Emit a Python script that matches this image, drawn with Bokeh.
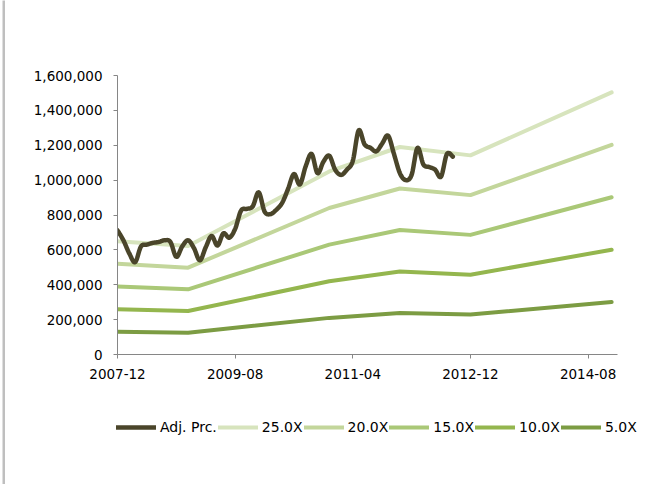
import numpy as np
from bokeh.plotting import figure
from bokeh.layouts import row, column
from bokeh.models import (Range1d, NumeralTickFormatter, FixedTicker, Legend, LegendItem)
from bokeh.embed import file_html
from bokeh.resources import INLINE

# ---------------- data ----------------
tick_months = [0, 20, 40, 60, 80]
tick_labels = ["2007-12", "2009-08", "2011-04", "2012-12", "2014-08"]

# Adj. price, monthly from 2007-12 (month 0), in thousands
price_months = list(range(58))
price_k = [712, 655, 580, 530, 620, 630, 640, 645, 655, 645,
           560, 620, 655, 610, 540, 615, 680, 625, 695, 670,
           720, 825, 835, 850, 930, 820, 805, 830, 870, 950,
           1035, 975, 1080, 1150, 1040, 1105, 1140, 1060, 1030, 1060,
           1110, 1285, 1205, 1185, 1165, 1210, 1255, 1150, 1040, 1000,
           1030, 1185, 1090, 1075, 1060, 1020, 1150, 1135]

# valuation bands (thousands) at these months
band_months = [0, 12, 36, 48, 60, 84]
band_25x = [650, 622, 1050, 1190, 1142, 1503]
band_20x = [520, 498, 840, 952, 914, 1202]
band_15x = [390, 374, 630, 714, 686, 902]
band_10x = [260, 249, 420, 476, 457, 601]
band_5x = [130, 125, 210, 238, 229, 301]

series_names = ["Adj. Prc.", "25.0X", "20.0X", "15.0X", "10.0X", "5.0X"]
colors = ["#4A452A", "#D7E4BD", "#C3D69B", "#AAC877", "#94B64E", "#7C9C43"]
widths = [4.5, 4, 4, 4, 4, 4]

X_MAX = 85          # axis end (months after 2007-12)
Y_MAX = 1600000

FONT = "DejaVu Sans"
FSIZE = "13.5px"
GREY = "#BFBFBF"


def smooth(xs, ys, n=12):
    """Catmull-Rom smoothing like a spreadsheet's smoothed line."""
    xs = np.asarray(xs, float)
    ys = np.asarray(ys, float)
    px = np.concatenate([[xs[0]], xs, [xs[-1]]])
    py = np.concatenate([[ys[0]], ys, [ys[-1]]])
    ox, oy = [], []
    t = np.linspace(0, 1, n, endpoint=False)
    for i in range(1, len(px) - 2):
        x0, x1, x2, x3 = px[i - 1], px[i], px[i + 1], px[i + 2]
        y0, y1, y2, y3 = py[i - 1], py[i], py[i + 1], py[i + 2]
        c1x, c1y = x1 + (x2 - x0) / 6, y1 + (y2 - y0) / 6
        c2x, c2y = x2 - (x3 - x1) / 6, y2 - (y3 - y1) / 6
        bx = (1 - t) ** 3 * x1 + 3 * (1 - t) ** 2 * t * c1x + 3 * (1 - t) * t ** 2 * c2x + t ** 3 * x2
        by = (1 - t) ** 3 * y1 + 3 * (1 - t) ** 2 * t * c1y + 3 * (1 - t) * t ** 2 * c2y + t ** 3 * y2
        ox.extend(bx)
        oy.extend(by)
    ox.append(xs[-1])
    oy.append(ys[-1])
    return ox, oy


def plain(w, h, bl=0, bt=0, bg="white"):
    s = figure(width=w, height=h, output_backend="svg", toolbar_location=None,
               x_axis_type=None, y_axis_type=None, x_range=Range1d(0, 1), y_range=Range1d(0, 1))
    s.min_border = 0
    s.min_border_left = bl
    s.min_border_top = bt
    s.frame_align = False
    s.outline_line_color = None
    s.grid.visible = False
    s.background_fill_color = bg
    s.border_fill_color = "white"
    return s


# ---------------- geometry (window pixels) ----------------
OX, OY = 5, 8                 # main canvas offset after grey frame lines
AX_L, AX_R = 117, 617         # x axis from/to
AX_T, AX_B = 75, 354          # y axis top (1.6M) / bottom (0)
MAIN_B = 400                  # bottom of main figure canvas
W = 662 - OX

p = figure(width=W, height=MAIN_B - OY, output_backend="svg", toolbar_location=None,
           x_range=Range1d(0, X_MAX), y_range=Range1d(0, Y_MAX))
p.min_border_left = AX_L - OX
p.min_border_right = 662 - AX_R
p.min_border_top = AX_T - OY
p.min_border_bottom = MAIN_B - AX_B
p.frame_align = False
p.outline_line_color = None
p.grid.visible = False
p.background_fill_color = "white"
p.border_fill_color = "white"

bands = [band_25x, band_20x, band_15x, band_10x, band_5x]
for b, c, w in zip(bands, colors[1:], widths[1:]):
    p.line(band_months, [v * 1000 for v in b], line_color=c, line_width=w,
           line_join="round", line_cap="round")
sx, sy = smooth(price_months, [v * 1000 for v in price_k])
p.line(sx, sy, line_color=colors[0], line_width=widths[0], line_join="round", line_cap="round")

for ax in (p.xaxis[0], p.yaxis[0]):
    ax.axis_line_color = "#868686"
    ax.axis_line_width = 1
    ax.major_tick_line_color = "#868686"
    ax.major_tick_in = 0
    ax.major_tick_out = 4
    ax.minor_tick_line_color = None
    ax.major_label_text_font = FONT
    ax.major_label_text_font_size = FSIZE
    ax.major_label_text_color = "#000000"

p.xaxis.ticker = FixedTicker(ticks=tick_months)
p.xaxis.major_label_overrides = {m: l for m, l in zip(tick_months, tick_labels)}
p.xaxis.major_label_standoff = 10
p.yaxis.ticker = FixedTicker(ticks=list(range(0, Y_MAX + 1, 200000)))
p.yaxis.formatter = NumeralTickFormatter(format="0,0")
p.yaxis.major_label_standoff = 11

# ---------------- legend strip under the chart ----------------
LEG_H = 484 - MAIN_B
lg = plain(W, LEG_H)
# legend keys: line renderers styled like the series, kept outside the visible range
leg_renderers = [lg.line([5, 6], [5, 6], line_color=c, line_width=w, line_cap="round")
                 for c, w in zip(colors, widths)]
items = [LegendItem(label=n, renderers=[r]) for n, r in zip(series_names, leg_renderers)]
# legend row centred at window y=427, starting at window x=116
legend = Legend(items=items, orientation="horizontal",
                location=(116 - OX, LEG_H - (427 - MAIN_B) - 10),
                glyph_width=40, glyph_height=20, label_standoff=4, spacing=1,
                padding=0, margin=0, border_line_color=None, background_fill_alpha=0,
                label_text_font=FONT, label_text_font_size="14px", label_text_color="#000000")
lg.add_layout(legend, "center")

left_strip = plain(OX, 484, bl=2, bg=GREY)
top_strip = plain(W, OY, bt=5, bg=GREY)
layout = row(left_strip, column(top_strip, p, lg, spacing=0), spacing=0)

open("out.html", "w").write(file_html(layout, INLINE))
